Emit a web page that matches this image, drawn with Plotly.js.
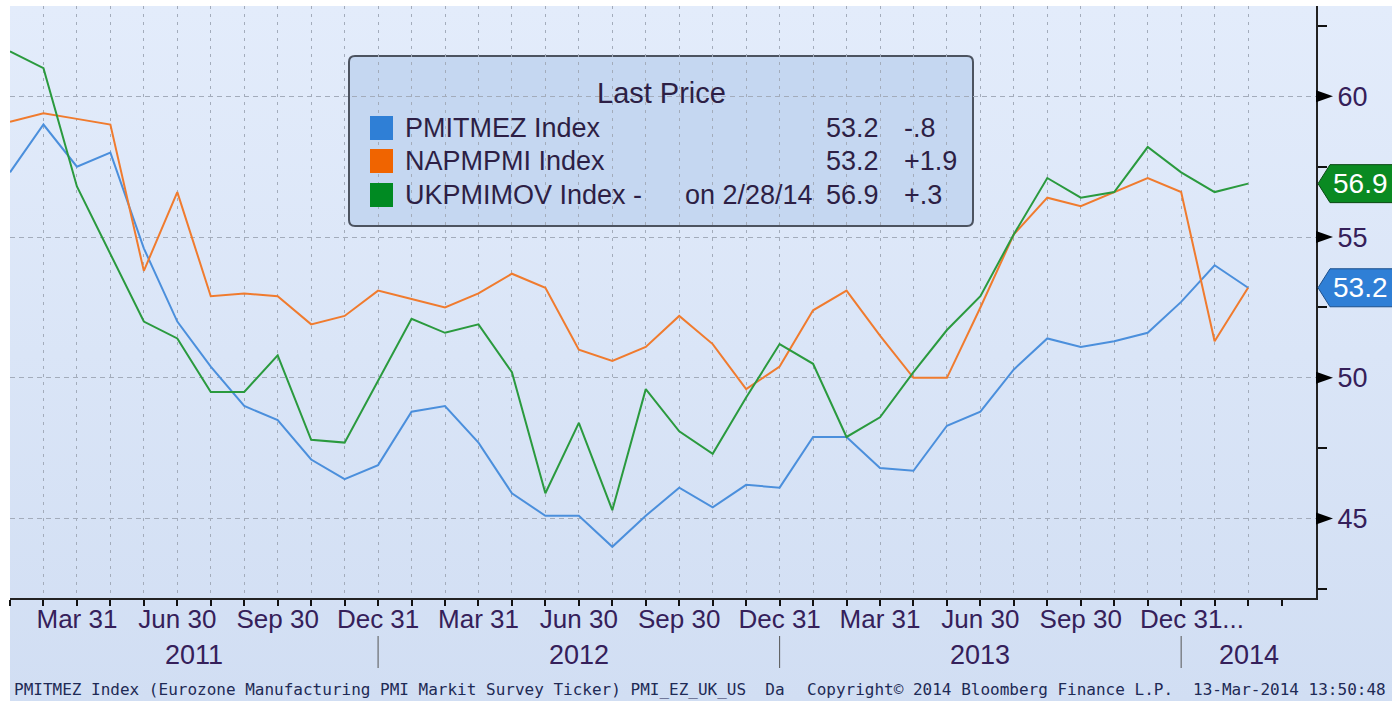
<!DOCTYPE html>
<html><head><meta charset="utf-8">
<script src="https://cdn.plot.ly/plotly-3.0.1.min.js"></script>
<style>
html,body{margin:0;padding:0;background:#fff;}
#wrap{position:relative;width:1392px;height:701px;background:#fff;overflow:hidden;}
#bg{position:absolute;left:10px;top:6px;right:0;bottom:0;background:linear-gradient(#e3ecfb,#d1def3);}
#chart{position:absolute;left:0;top:0;width:1392px;height:701px;}
</style></head>
<body><div id="wrap"><div id="bg"></div><div id="chart"></div></div>
<script>
// ---------------- data ----------------
const months = [
  "2011-01-31","2011-02-28","2011-03-31","2011-04-30","2011-05-31","2011-06-30",
  "2011-07-31","2011-08-31","2011-09-30","2011-10-31","2011-11-30","2011-12-31",
  "2012-01-31","2012-02-29","2012-03-31","2012-04-30","2012-05-31","2012-06-30",
  "2012-07-31","2012-08-31","2012-09-30","2012-10-31","2012-11-30","2012-12-31",
  "2013-01-31","2013-02-28","2013-03-31","2013-04-30","2013-05-31","2013-06-30",
  "2013-07-31","2013-08-31","2013-09-30","2013-10-31","2013-11-30","2013-12-31",
  "2014-01-31","2014-02-28"
];
const pmitmez = [57.3,59.0,57.5,58.0,54.6,52.0,50.4,49.0,48.5,47.1,46.4,46.9,
                 48.8,49.0,47.7,45.9,45.1,45.1,44.0,45.1,46.1,45.4,46.2,46.1,
                 47.9,47.9,46.8,46.7,48.3,48.8,50.3,51.4,51.1,51.3,51.6,52.7,
                 54.0,53.2];
const napmpmi = [59.1,59.4,59.2,59.0,53.8,56.6,52.9,53.0,52.9,51.9,52.2,53.1,
                 52.8,52.5,53.0,53.7,53.2,51.0,50.6,51.1,52.2,51.2,49.6,50.4,
                 52.4,53.1,51.5,50.0,50.0,52.5,55.1,56.4,56.1,56.6,57.1,56.6,
                 51.3,53.2];
const ukpmimov = [61.6,61.0,56.8,54.4,52.0,51.4,49.5,49.5,50.8,47.8,47.7,49.9,
                  52.1,51.6,51.9,50.2,45.9,48.4,45.3,49.6,48.1,47.3,49.3,51.2,
                  50.5,47.9,48.6,50.2,51.7,52.9,55.1,57.1,56.4,56.6,58.2,57.3,
                  56.6,56.9];
const seriesNames = ["PMITMEZ Index","NAPMPMI Index","UKPMIMOV Index"];
const seriesNote  = ["","","-"];
const monthAbbr = ["Jan","Feb","Mar","Apr","May","Jun","Jul","Aug","Sep","Oct","Nov","Dec"];
const yTicks = [45,50,55,60];
const yMinorTicks = [42.5,47.5,52.5,57.5,62.5];
const legendTitle = "Last Price";
const footerLeft = "PMITMEZ Index (Eurozone Manufacturing PMI Markit Survey Ticker) PMI_EZ_UK_US  Da";
const footerMid = "Copyright\u00a9 2014 Bloomberg Finance L.P.";
const footerRight = "13-Mar-2014 13:50:48";

// ---------------- styles / geometry ----------------
const W = 1392, H = 701, L = 10, R = 1316, T = 6, B = 598;
const PW = R - L, PH = B - T;
const px = v => (v - L) / PW;
const py = v => (B - v) / PH;
const REG = '"Liberation Sans",Arial,sans-serif';
const MONO = '"DejaVu Sans Mono","Liberation Mono",monospace';
const TXT = '#35205a';
const LTXT = '#2d1f45';
const lineColors = ['#4b8fdc','#f07b2e','#2a9a3e'];
const swatchColors = ['#2f7fd6','#f06400','#008a22'];
const tagFill = ['#2f7fd6', null, '#0a8a22'];
const tagLine = ['#1c4f8c', null, '#0b4a14'];
const GRID = '#a3acbb';
const xMax = 39.03;

const series = [pmitmez, napmpmi, ukpmimov];
const xIdx = months.map((m, i) => i);

// x tick labels at quarter ends
const qIdx = xIdx.filter(i => (+months[i].slice(5,7)) % 3 === 0);
const lastQ = qIdx[qIdx.length - 1];
const tickText = xIdx.map(i => {
  const m = +months[i].slice(5,7);
  if (m % 3 !== 0) return '';
  const s = monthAbbr[m-1] + ' ' + months[i].slice(8,10);
  return i === lastQ ? '\u00a0\u00a0\u00a0' + s + '...' : s;
});

const traces = series.map((s, k) => ({
  type: 'scatter', mode: 'lines', x: xIdx, y: s, name: seriesNames[k],
  line: {color: lineColors[k], width: 2}, hoverinfo: 'skip', showlegend: false
}));

const shapes = [];
const annotations = [];

// y major tick triangles
yTicks.forEach(v => shapes.push({
  type: 'path', xref: 'paper', xsizemode: 'pixel', xanchor: 1,
  yref: 'y', ysizemode: 'pixel', yanchor: v,
  path: 'M0,6 L17,0 L0,-6 Z', fillcolor: '#000', line: {width: 0}, layer: 'above'
}));

// value tags at right
series.forEach((s, k) => {
  if (!tagFill[k]) return;
  const v = s[s.length - 1];
  shapes.push({
    type: 'path', xref: 'paper', xsizemode: 'pixel', xanchor: 1,
    yref: 'y', ysizemode: 'pixel', yanchor: v,
    path: 'M2,0 L14,19 L95,19 L95,-19 L14,-19 Z',
    fillcolor: tagFill[k], line: {color: tagLine[k], width: 1}, layer: 'above'
  });
  annotations.push({
    xref: 'paper', x: 1, xanchor: 'left', xshift: 15, yref: 'y', y: v, yanchor: 'middle',
    text: v.toFixed(1), showarrow: false, font: {family: REG, size: 28, color: '#fff'}
  });
});

// year labels and separators
const years = [...new Set(months.map(m => m.slice(0,4)))];
const decIdx = years.map(y => xIdx.filter(i => months[i].slice(0,4) === y).pop());
years.forEach((y, j) => {
  const start = j === 0 ? 0 : decIdx[j-1];
  const end = j === years.length - 1 ? xMax : decIdx[j];
  annotations.push({
    xref: 'x', x: (start + end) / 2, yref: 'paper', y: py(655), yanchor: 'middle',
    text: y, showarrow: false, font: {family: REG, size: 27, color: TXT}
  });
  if (j < years.length - 1) shapes.push({
    type: 'line', xref: 'x', x0: decIdx[j], x1: decIdx[j], yref: 'paper',
    y0: py(636), y1: py(668), line: {color: '#555', width: 1}
  });
});

// legend box (rounded)
(function(){
  const x0 = px(349), x1 = px(973), y0 = py(226), y1 = py(56);
  const rx = 6 / PW, ry = 6 / PH;
  shapes.push({
    type: 'path', xref: 'paper', yref: 'paper', layer: 'below',
    path: `M${x0+rx},${y1} L${x1-rx},${y1} Q${x1},${y1} ${x1},${y1-ry} L${x1},${y0+ry} Q${x1},${y0} ${x1-rx},${y0} L${x0+rx},${y0} Q${x0},${y0} ${x0},${y0+ry} L${x0},${y1-ry} Q${x0},${y1} ${x0+rx},${y1} Z`,
    fillcolor: '#c5d7f1', line: {color: '#4c5360', width: 2}
  });
})();
annotations.push({
  xref: 'paper', x: px(661), yref: 'paper', y: py(93), yanchor: 'middle', xanchor: 'center',
  text: legendTitle, showarrow: false, font: {family: REG, size: 29, color: LTXT}
});
const rowY = [128, 161, 195];
const fmtChg = d => {
  const s = Math.abs(d).toFixed(1).replace(/^0/, '');
  return (d < 0 ? '-' : '+') + s;
};
const lastDate = months[months.length - 1];
const dateStr = 'on ' + (+lastDate.slice(5,7)) + '/' + (+lastDate.slice(8,10)) + '/' + lastDate.slice(2,4);
series.forEach((s, k) => {
  const yc = rowY[k];
  shapes.push({
    type: 'rect', xref: 'paper', yref: 'paper',
    x0: px(370), x1: px(393), y0: py(yc + 12), y1: py(yc - 12),
    fillcolor: swatchColors[k], line: {width: 0}
  });
  const f = {family: REG, size: 27, color: LTXT};
  annotations.push({xref:'paper', yref:'paper', x: px(403), y: py(yc), xanchor:'left', yanchor:'middle',
    text: seriesNames[k] + (seriesNote[k] ? ' ' + seriesNote[k] : ''), showarrow:false, font:f});
  const last = s[s.length-1], prev = s[s.length-2];
  annotations.push({xref:'paper', yref:'paper', x: px(881), y: py(yc), xanchor:'right', yanchor:'middle',
    text: last.toFixed(1), showarrow:false, font:f});
  annotations.push({xref:'paper', yref:'paper', x: px(902), y: py(yc), xanchor:'left', yanchor:'middle',
    text: fmtChg(last - prev), showarrow:false, font:f});
  if (seriesNote[k]) annotations.push({xref:'paper', yref:'paper', x: px(815), y: py(yc), xanchor:'right', yanchor:'middle',
    text: dateStr, showarrow:false, font:f});
});

// footer
const ff = {family: MONO, size: 16, color: '#1e2a55'};
annotations.push({xref:'paper', yref:'paper', x: px(12), y: py(689), xanchor:'left', yanchor:'middle', text: footerLeft, showarrow:false, font: ff});
annotations.push({xref:'paper', yref:'paper', x: px(805), y: py(689), xanchor:'left', yanchor:'middle', text: footerMid, showarrow:false, font: ff});
annotations.push({xref:'paper', yref:'paper', x: px(1388), y: py(689), xanchor:'right', yanchor:'middle', text: footerRight, showarrow:false, font: ff});

const layout = {
  width: W, height: H,
  margin: {l: L, r: W - R, t: T, b: H - B, pad: 0},
  paper_bgcolor: 'rgba(0,0,0,0)', plot_bgcolor: 'rgba(0,0,0,0)',
  showlegend: false,
  xaxis: {
    type: 'linear', range: [0, xMax], fixedrange: true,
    tickmode: 'array', tickvals: xIdx, ticktext: tickText, tickangle: 0,
    ticks: 'outside', ticklen: 6, tickwidth: 2, tickcolor: '#111',
    ticklabelstandoff: -9,
    tickfont: {family: REG, size: 26, color: TXT},
    showline: true, linecolor: '#222', linewidth: 2, mirror: false,
    showgrid: true, gridcolor: GRID, gridwidth: 1, griddash: '3px,5px',
    zeroline: false,
    minor: {tickmode: 'array', tickvals: [xIdx.length], ticks: 'outside', ticklen: 6, tickwidth: 2, tickcolor: '#111', showgrid: false}
  },
  yaxis: {
    side: 'right', range: [42.18, 63.21], fixedrange: true,
    tickmode: 'array', tickvals: yTicks, ticktext: yTicks.map(String),
    ticks: 'outside', ticklen: 14, tickcolor: 'rgba(0,0,0,0)',
    tickfont: {family: REG, size: 27, color: TXT},
    showline: true, linecolor: '#222', linewidth: 2,
    showgrid: true, gridcolor: GRID, gridwidth: 1, griddash: '5px,4px',
    zeroline: false,
    minor: {tickmode: 'array', tickvals: yMinorTicks, ticks: 'outside', ticklen: 9, tickwidth: 2, tickcolor: '#111', showgrid: false}
  },
  shapes: shapes,
  annotations: annotations
};

Plotly.newPlot('chart', traces, layout, {staticPlot: true, displayModeBar: false});
</script>
</body></html>
